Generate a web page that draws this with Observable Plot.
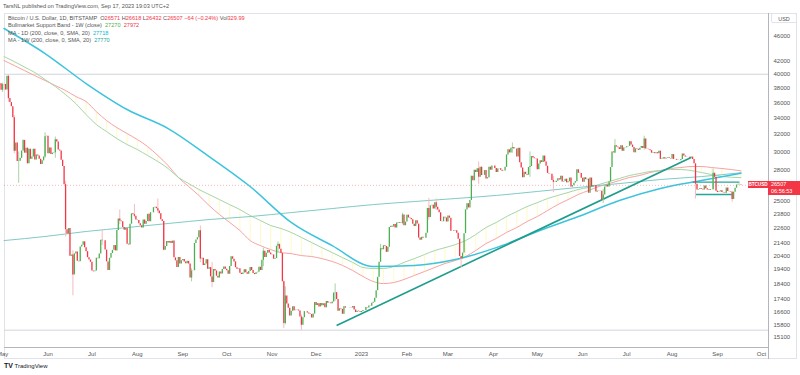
<!DOCTYPE html>
<html><head><meta charset="utf-8">
<script src="https://cdn.jsdelivr.net/npm/d3@7"></script>
<script src="https://cdn.jsdelivr.net/npm/@observablehq/plot@0.6"></script>
<style>
body{margin:0;background:#fff;font-family:"Liberation Sans",Arial,sans-serif;}
#wrap{position:relative;width:800px;height:375px;overflow:hidden;background:#fff}
#chart{position:absolute;left:0;top:0}
.abs{position:absolute;white-space:nowrap}
.hdr{left:3px;top:3px;font-size:5.6px;color:#555}
.leg{left:8px;font-size:5.6px;color:#555;line-height:7px}
.pane{left:4px;top:13px;width:793px;height:346px;border:1px solid #e0e3eb;box-sizing:border-box}
.vsep{left:768px;top:13px;width:1px;height:346px;background:#b2b5be}
.hsep{left:4px;top:347px;width:764px;height:1px;background:#b2b5be}
.usd{left:771px;top:13px;width:26px;height:10px;border:1px solid #e0e3eb;border-radius:2px;font-size:5.5px;color:#555;text-align:center;line-height:10px;box-sizing:border-box;background:#fff}
.tv{left:4px;top:362px;font-size:6px;color:#131722}
</style></head><body><div id="wrap"></div>
<script>
// ---------- DATA ----------
// daily closes (BITSTAMP BTCUSD, 1D)
const firstOpen = 38300;
const close_2022_04 = [38600, 37700]; // Apr 29-30
const close_2022_05 = [38470,38520,37720,39690,36550,36010,35470,34060,30080,31010,28940,28990,29290,30100,31310,29860,30420,28700,30300,29190,29430,30290,29100,29650,29540,29200,28630,29020,29450,31740,31790];
const close_2022_06 = [29800,30450,29700,29860,29900,31370,31130,30200,30110,29090,28420,26570,22490,22140,22580,20380,20470,19020,20560,20710,20000,19970,21100,21230,21500,21030,20730,20270,20100,19930];
const close_2022_07 = [19290,19240,19300,20230,20190,20550,21630,21590,21580,20850,19960,19330,20230,20590,20830,21200,20790,22420,23400,23230,23160,22680,22450,22580,21310,21250,22950,23850,23770,23630,23300];
const close_2022_08 = [23270,22980,22820,22620,23310,22950,23180,23810,23160,23950,23940,24400,24440,24310,24100,23850,23340,23190,20830,21140,21520,21400,21530,21370,21560,20260,20040,19550,20290,19800,20050];
const close_2022_09 = [20130,19950,19830,20000,19800,18800,19290,19320,21370,21650,21830,22400,20170,20240,19700,19800,20110,19420,19540,18880,18490,19410,19300,18930,18800,19230,19080,19410,19590,19430];
const close_2022_10 = [19310,19060,19630,20340,20160,19960,19530,19420,19450,19140,19050,19160,19380,19180,19070,19270,19550,19330,19120,19040,19170,19210,19570,19330,20090,20770,20290,20600,20820,20630,20490];
const close_2022_11 = [20480,20160,20210,21150,21300,20920,20600,18540,15880,17590,17070,16810,16330,16620,16900,16660,16690,16700,16640,16280,15780,16230,16600,16600,16520,16460,16430,16220,16450,17170];
const close_2022_12 = [16980,17100,16890,17110,16970,17090,16840,17230,17130,17140,17100,17210,17790,17810,17360,16630,16780,16740,16440,16900,16820,16830,16820,16840,16830,16920,16700,16550,16630,16600,16540];
const close_2023_01 = [16610,16670,16670,16850,16830,16950,16940,17120,17180,17440,17940,18850,19930,20960,20880,21190,21130,20680,21080,22670,22780,22710,22920,22620,23060,23010,23080,23030,23740,22820,23130];
const close_2023_02 = [23730,23490,23430,23330,22940,22760,23250,22960,21800,21630,21860,21780,21780,22200,24330,23530,24570,24630,24280,24840,24440,24190,23940,23180,23160,23560,23490,23140];
const close_2023_03 = [23650,23470,22360,22350,22430,22410,22200,21710,20360,20190,20630,22160,24200,24760,24380,25060,27420,26970,28040,27790,28180,27310,28350,27480,27500,27990,27140,27270,28350,28040,28480];
const close_2023_04 = [28460,28200,27800,28170,28180,28040,27920,27950,28330,29670,30230,29890,30400,30490,30320,30320,29440,30400,28830,28250,27270,27820,27600,27520,28310,28420,29480,29340,29250,29230];
const close_2023_05 = [28070,28680,29030,28850,29540,28900,28450,27700,27630,27620,26990,26800,26790,26920,27170,27030,27400,26830,26890,27120,26750,26850,27230,26330,26480,26720,26870,28090,27730,27700,27210];
const close_2023_06 = [26820,27250,27070,27120,25740,27230,26350,26500,26480,25850,25940,25900,25920,25120,25580,26340,26510,26340,26840,28310,30000,29890,30690,30550,30470,30270,30690,30080,30450,30470];
const close_2023_07 = [30590,30620,31160,30770,30500,29900,30340,30290,30170,30410,30620,30380,31460,30310,30290,30240,30140,29860,29910,29800,29910,29790,30080,29180,29220,29350,29210,29310,29350,29280,29230];
const close_2023_08 = [29700,29170,29180,29090,29050,29040,29180,29770,29560,29430,29400,29420,29300,29430,29170,28700,26620,26050,26100,26190,26120,26050,26430,26160,26060,26010,26090,26100,27720,27300,25940];
const close_2023_09 = [25800,25870,25970,25820,25780,25750,26240,25900,25890,25830,25160,25840,26230,26530,26610,26571,26507];

// notable wicks: date, high, low
const wickDates = ["2022-05-01","2022-05-05","2022-05-09","2022-05-12","2022-05-30","2022-06-06","2022-06-13","2022-06-18","2022-07-08","2022-07-20","2022-07-30","2022-08-15","2022-08-19","2022-09-07","2022-09-13","2022-09-21","2022-10-26","2022-11-05","2022-11-09","2022-11-10","2022-11-21","2022-12-14","2023-01-14","2023-01-29","2023-02-16","2023-02-21","2023-03-10","2023-03-22","2023-04-14","2023-04-26","2023-05-12","2023-06-15","2023-06-23","2023-07-13","2023-08-17","2023-08-29","2023-09-11"];
const wickHigh = [38700,39900,34300,30000,32200,31700,26900,20800,22500,24200,24700,25200,23200,19460,22800,19900,21000,21500,18600,18200,16400,18400,21300,23900,25250,25200,20300,28900,31000,30000,27400,26100,31400,31800,28700,28150,25900];
const wickLow = [37400,36050,29800,26700,29300,29300,21900,17600,21200,22900,23500,23900,20800,18540,19900,18140,19600,20600,15600,15800,15480,17250,20600,22900,23300,24150,19550,26600,29850,27300,25800,24780,29800,30200,25200,26000,24900];

// Bullmarket support band (1W), sampled each Monday from 2022-05-02
const bandStart = "2022-05-02";
const sma20w = [42080,41310,40540,39800,39080,38360,37660,36830,36150,34830,33690,32830,32110,31410,30600,29600,28520,27290,26390,25530,24590,23790,23100,22420,21600,21200,20890,20660,20580,20430,20360,20200,19990,19700,19330,18910,18560,18420,18490,18700,18980,19260,19550,19840,20060,20360,20820,21360,21770,22260,22670,23180,23610,24140,24680,25140,25620,26000,26390,26680,26980,27290,27490,27790,28000,28210,28310,28420,28420,28310,28210,27972];
const ema21w = [42710,41920,41080,40250,39220,38220,37100,35880,34450,33200,32350,31520,30830,30260,29600,28950,28210,27290,26680,26100,25620,25140,24680,24230,23700,23270,22840,22590,22260,21850,21440,21040,20660,20280,19920,19550,19480,19480,19620,19920,20200,20510,20820,21040,21280,21600,22090,22670,23100,23610,24050,24500,24860,25240,25530,25810,26100,26300,26580,26880,27180,27490,27690,27900,28000,28100,28100,28000,27790,27590,27390,27270];

// moving averages, sampled every 4 weeks
const maDates = ["2022-05-02","2022-05-30","2022-06-27","2022-07-25","2022-08-22","2022-09-19","2022-10-17","2022-11-14","2022-12-12","2023-01-09","2023-02-06","2023-03-06","2023-04-03","2023-05-01","2023-05-29","2023-06-26","2023-07-24","2023-08-21","2023-09-17"];
const ma200d = [47390,43190,38650,35100,32710,29490,26390,23100,21200,19620,19690,20130,21040,22340,23610,25050,26200,26980,27718];
const ma200w = [21600,21930,22340,22670,23010,23350,23610,23960,24320,24680,24960,25240,25530,25910,26300,26680,27080,27380,27770];

// drawings
const trendDates = ["2022-12-15","2023-08-14"];
const trendPrices = [15770, 29390];
const rangeStart = ["2023-08-15","2023-08-17"];
const rangeEnd = ["2023-09-16","2023-09-11"];
const rangePrices = [26830, 25620];
const levels = [40000, 15500];

// axes
const yTicks = [46000,42000,40000,38000,36000,34000,32000,30000,28000,25000,23800,22600,21400,20400,19400,18400,17400,16600,15800,15100];
const monthTicks = ["2022-05-01","2022-06-01","2022-07-01","2022-08-01","2022-09-01","2022-10-01","2022-11-01","2022-12-01","2023-01-01","2023-02-01","2023-03-01","2023-04-01","2023-05-01","2023-06-01","2023-07-01","2023-08-01","2023-09-01","2023-10-01"];

// ---------- BUILD ----------
const months = [[2022,4,29,close_2022_04],[2022,5,1,close_2022_05],[2022,6,1,close_2022_06],[2022,7,1,close_2022_07],[2022,8,1,close_2022_08],[2022,9,1,close_2022_09],[2022,10,1,close_2022_10],[2022,11,1,close_2022_11],[2022,12,1,close_2022_12],[2023,1,1,close_2023_01],[2023,2,1,close_2023_02],[2023,3,1,close_2023_03],[2023,4,1,close_2023_04],[2023,5,1,close_2023_05],[2023,6,1,close_2023_06],[2023,7,1,close_2023_07],[2023,8,1,close_2023_08],[2023,9,1,close_2023_09]];
const candles = [];
let prev = firstOpen;
for (const [y,m,d0,arr] of months) arr.forEach((c,j)=>{candles.push({date:new Date(Date.UTC(y,m-1,d0+j)),open:prev,close:c});prev=c;});
const last = candles[candles.length-1];
const byDate = new Map(candles.map(c=>[+c.date,c]));
const wicks = wickDates.map((d,i)=>{const c=byDate.get(+new Date(d));return {date:new Date(d),high:wickHigh[i],low:wickLow[i],up:c?c.close>=c.open:true};});

const DAY = 864e5;
const band = sma20w.map((v,i)=>({date:new Date(new Date(bandStart).getTime()+i*7*DAY),sma:v,ema:ema21w[i]}));
band[band.length-1].date = last.date;
const mas = maDates.map((d,i)=>({date:new Date(d),d200:ma200d[i],w200:ma200w[i]}));
const trend = [{x1:new Date(trendDates[0]),y1:trendPrices[0],x2:new Date(trendDates[1]),y2:trendPrices[1]}];
const ranges = rangePrices.map((p,i)=>({x1:new Date(rangeStart[i]),x2:new Date(rangeEnd[i]),y:p}));

const GREEN="#4caf50", RED="#f23645";
const jan1 = Date.UTC(2023,0,1), pxDay=1.465;
const xDomain=[new Date(jan1-(361-4)/pxDay*DAY), new Date(jan1+(768-361)/pxDay*DAY)];

const chart = Plot.plot({
  width:800, height:375, marginTop:13, marginBottom:28, marginLeft:4, marginRight:32,
  style:{fontFamily:"'Liberation Sans',Arial,sans-serif",fontSize:"6px",color:"#555",background:"transparent",overflow:"visible"},
  x:{type:"utc",domain:xDomain},
  y:{type:"log",domain:[14535,50095]},
  marks:[
    Plot.ruleY(levels,{stroke:"#d1d4dc",strokeWidth:1}),
    Plot.ruleY([last.close],{stroke:RED,strokeOpacity:0.35,strokeDasharray:"1,2"}),
    Plot.ruleX(band,{x:"date",y1:"sma",y2:"ema",stroke:"#fff59d",strokeOpacity:0.75,strokeWidth:0.8}),
    Plot.line(band,{x:"date",y:"sma",stroke:"#f7a2a2",strokeWidth:1,curve:"monotone-x"}),
    Plot.line(band,{x:"date",y:"ema",stroke:"#a5d6a7",strokeWidth:1,curve:"monotone-x"}),
    Plot.line(mas,{x:"date",y:"w200",stroke:"#80cbc4",strokeWidth:1,curve:"monotone-x"}),
    Plot.line(mas,{x:"date",y:"d200",stroke:"#3dc3dd",strokeWidth:1.5,curve:"monotone-x"}),
    Plot.link(trend,{x1:"x1",y1:"y1",x2:"x2",y2:"y2",stroke:"#1e9c8c",strokeWidth:1.6}),
    Plot.link(ranges,{x1:"x1",x2:"x2",y1:"y",y2:"y",stroke:"#26a69a",strokeWidth:1.3}),
    Plot.ruleX(wicks,{x:"date",y1:"low",y2:"high",stroke:d=>d.up?"#a5d6a7":"#f8bbc0",strokeWidth:1}),
    Plot.ruleX(candles,{x:"date",y1:"open",y2:"close",stroke:d=>d.close>=d.open?GREEN:RED,strokeWidth:1.3}),
    Plot.axisY(yTicks,{anchor:"right",tickSize:0,tickPadding:5,tickFormat:d=>String(d),fill:"#555",fontSize:6,label:null}),
    Plot.axisX(monthTicks.map(d=>new Date(d)),{anchor:"bottom",tickSize:0,tickPadding:4,fill:"#555",fontSize:6,label:null,
      tickFormat:d=>d.getUTCMonth()===0?String(d.getUTCFullYear()):d3.utcFormat("%b")(d)})
  ]
});
chart.id="chart";
const wrap=document.getElementById("wrap");
function add(cls,html,style){const e=document.createElement("div");e.className="abs "+cls;e.innerHTML=html;if(style)Object.assign(e.style,style);wrap.appendChild(e);return e;}
add("pane","");
wrap.appendChild(chart);
add("vsep","");add("hsep","");
add("usd","USD");
add("hdr","TarsNL published on TradingView.com, Sep 17, 2023 19:03 UTC+2");
const r=s=>`<span style="color:${RED}">${s}</span>`;
add("leg",`Bitcoin / U.S. Dollar, 1D, BITSTAMP&nbsp; O${r("26571")} H${r("26618")} L${r("26432")} C${r("26507")} ${r("−64 (−0.24%)")} Vol${r("329.99")}`,{top:"15px"});
add("leg",`Bullmarket Support Band - 1W (close)&nbsp; <span style="color:#4caf50">27270</span>&nbsp; ${r("27972")}`,{top:"22px"});
add("leg",`MA - 1D (200, close, 0, SMA, 20)&nbsp; <span style="color:#00bcd4">27718</span>`,{top:"29.5px"});
add("leg",`MA - 1W (200, close, 0, SMA, 20)&nbsp; <span style="color:#26a69a">27770</span>`,{top:"36.5px"});
const py = chart.scale("y").apply(last.close);
add("",`BTCUSD`,{left:"748px",top:(py-4)+"px",width:"20px",height:"7px",background:RED,color:"#fff",fontSize:"4.6px",lineHeight:"7px",textAlign:"center",fontWeight:"bold"});
add("",`26507<br>06:56:53`,{left:"768px",top:(py-4)+"px",width:"32px",height:"14px",background:RED,color:"#fff",fontSize:"5.5px",lineHeight:"7px",paddingLeft:"3px",boxSizing:"border-box"});
add("tv",`<b style="font-size:7px">TV</b> TradingView`);
</script></body></html>
